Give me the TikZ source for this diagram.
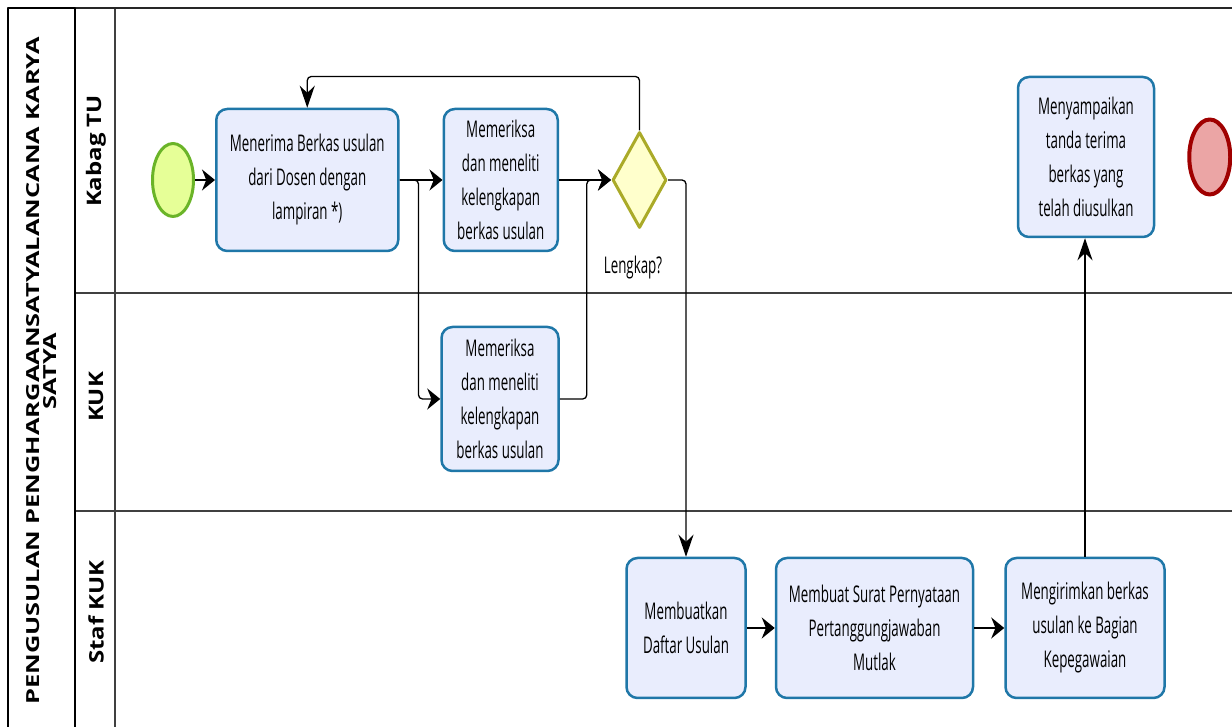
\documentclass[tikz,border=0pt]{standalone}
\usepackage{fontspec}
\usepackage{xcolor}
\usetikzlibrary{shapes,arrows.meta,positioning}

\newfontfamily\taskfont[FakeStretch=0.58]{Open Sans}
\newfontfamily\lanefont[FakeStretch=1.2]{Open Sans}
\newfontfamily\poolfont[FakeStretch=1.41]{Open Sans}

\definecolor{taskfill}{RGB}{233,237,253}
\definecolor{taskline}{RGB}{31,119,168}
\definecolor{startfill}{RGB}{230,255,151}
\definecolor{startline}{RGB}{106,180,40}
\definecolor{gwfill}{RGB}{255,255,204}
\definecolor{gwline}{RGB}{170,170,40}
\definecolor{endfill}{RGB}{235,165,165}
\definecolor{endline}{RGB}{160,0,0}

\begin{document}
\begin{tikzpicture}[x=1pt,y=1pt,line join=round,
    task/.style={rectangle,rounded corners=11pt,draw=taskline,fill=taskfill,line width=2.5pt,
        inner sep=0pt,align=center,font=\taskfont\fontsize{23}{34}\selectfont},
    startev/.style={ellipse,draw=startline,fill=startfill,line width=3pt,inner sep=0pt,
        minimum width=41pt,minimum height=73pt},
    endev/.style={ellipse,draw=endline,fill=endfill,line width=4pt,inner sep=0pt,
        minimum width=41pt,minimum height=75pt},
    gateway/.style={diamond,draw=gwline,fill=gwfill,line width=3pt,inner sep=0pt,
        minimum width=54pt,minimum height=96pt},
    lane/.style={rotate=90,font=\lanefont\bfseries\fontsize{20}{24}\selectfont},
    hflow/.style={draw=black,line width=1.3pt,rounded corners=4pt,-{Stealth[length=13pt,width=21pt]}},
    vflow/.style={draw=black,line width=1.3pt,rounded corners=4pt,-{Stealth[length=22pt,width=15pt]}}]
    \useasboundingbox (0,0) rectangle (1232,727);

    % pool and lanes
    \draw[black!75,line width=1.5pt] (75,434) -- (1232,434) (75,216) -- (1232,216) (115,0) -- (115,719);
    \draw[black!85,line width=1.5pt] (75,719) -- (1232,719);
    \draw[black,line width=2.5pt] (8,0) -- (8,719) -- (75,719) -- (75,0);
    \node[rotate=90,align=center,font=\poolfont\bfseries\fontsize{18}{17}\selectfont] (pool) at (42,356)
        {PENGUSULAN PENGHARGAANSATYALANCANA KARYA\\SATYA};
    \node[lane] (kabag) at (96,576) {Kabag TU};
    \node[lane] (kuk) at (96,330) {KUK};
    \node[lane] (staf) at (96,115) {Staf KUK};

    % Kabag TU
    \node[startev] (start) at (173,547) {};
    \node[task,minimum width=182pt,minimum height=142pt] (t1) [right=20pt of start]
        {Menerima Berkas usulan\\dari Dosen dengan\\lampiran *)};
    \node[task,minimum width=114pt,minimum height=142pt] (t2) [right=43pt of t1]
        {Memeriksa\\dan meneliti\\kelengkapan\\berkas usulan};
    \node[gateway] (gw) [right=52pt of t2] {};
    \node[font=\taskfont\fontsize{23}{34}\selectfont] (lengkap) at (633,459) {Lengkap?};
    \node[task,minimum width=136pt,minimum height=160pt] (t7) at (1086,570)
        {Menyampaikan\\tanda terima\\berkas yang\\telah diusulkan};
    \node[endev] (end) [right=32pt of t7] {};

    % KUK
    \node[task,minimum width=117pt,minimum height=144pt] (t3) at (500,328)
        {Memeriksa\\dan meneliti\\kelengkapan\\berkas usulan};

    % Staf KUK
    \node[task,minimum width=119pt,minimum height=140pt] (t4) at (686,99)
        {Membuatkan\\Daftar Usulan};
    \node[task,minimum width=197pt,minimum height=140pt] (t5) [right=28pt of t4]
        {Membuat Surat Pernyataan\\Pertanggungjawaban\\Mutlak};
    \node[task,minimum width=159pt,minimum height=140pt] (t6) [right=30pt of t5]
        {Mengirimkan berkas\\usulan ke Bagian\\Kepegawaian};

    \draw[hflow] (start) -- (t1);
    \draw[hflow] (t1) -- (t2);
    \draw[hflow] (t1.east) -- ++(19,0) |- (t3.west);
    \draw[hflow] (t2) -- (gw);
    \draw[hflow] (t3.east) -- ++(27,0) |- (gw.west);
    \draw[vflow] (gw.north) -- ++(0,54) -| (t1.north);
    \draw[vflow] (gw.east) -| (t4.north);
    \draw[hflow] (t4) -- (t5);
    \draw[hflow] (t5) -- (t6);
    \draw[vflow] (t6.north) -- (t6.north |- t7.south);
\end{tikzpicture}
\end{document}
